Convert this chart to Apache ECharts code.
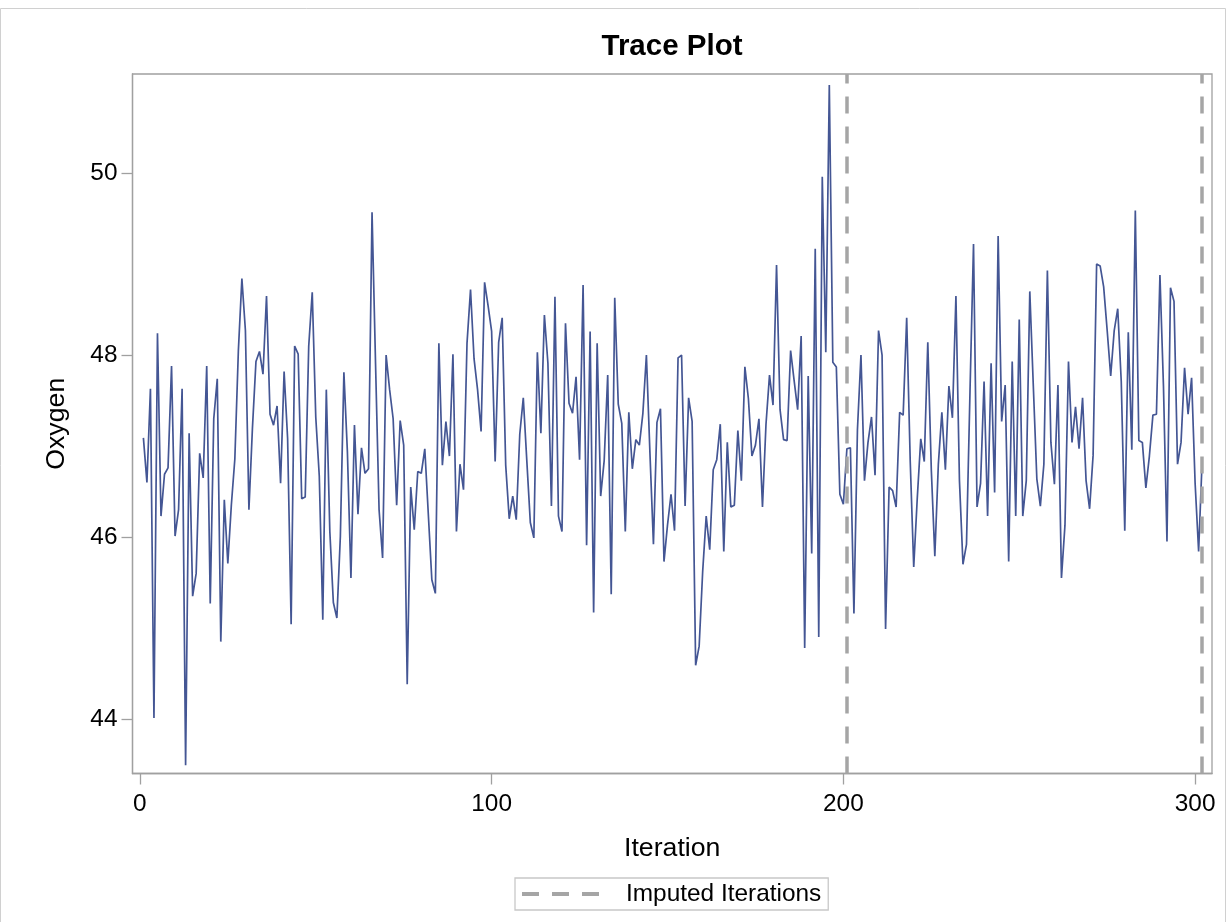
<!DOCTYPE html>
<html>
<head>
<meta charset="utf-8">
<script src="https://cdn.jsdelivr.net/npm/echarts@6/dist/echarts.min.js"></script>
<style>
html,body{margin:0;padding:0;background:#fff;}
#chart{width:1228px;height:922px;}
</style>
</head>
<body>
<div id="chart"></div>
<script>
// Oxygen trace values, iterations 1..302
const oxygen = [
47.09,46.60,47.63,44.01,48.24,46.23,46.69,46.76,47.88,46.01,
46.30,47.63,43.49,47.14,45.35,45.60,46.92,46.65,47.88,45.27,
47.30,47.74,44.85,46.41,45.71,46.35,46.86,48.05,48.84,48.27,
46.30,47.20,47.93,48.04,47.79,48.65,47.35,47.23,47.44,46.59,
47.82,47.08,45.04,48.10,48.01,46.42,46.44,48.10,48.69,47.32,
46.67,45.09,47.62,46.06,45.28,45.11,46.01,47.81,46.93,45.55,
47.23,46.25,46.98,46.70,46.75,49.57,47.90,46.30,45.77,48.00,
47.62,47.30,46.35,47.28,47.01,44.38,46.55,46.08,46.72,46.70,
46.97,46.25,45.53,45.38,48.13,46.79,47.27,46.89,48.01,46.06,
46.80,46.52,48.13,48.72,47.96,47.62,47.16,48.80,48.54,48.26,
46.83,48.14,48.41,46.79,46.20,46.45,46.19,47.13,47.53,46.84,
46.16,45.99,48.03,47.14,48.44,47.91,46.34,48.64,46.23,46.06,
48.35,47.47,47.36,47.76,46.85,48.77,45.91,48.26,45.17,48.13,
46.45,46.84,47.78,45.37,48.63,47.46,47.25,46.06,47.37,46.75,
47.07,47.01,47.36,48.00,46.93,45.92,47.26,47.41,45.73,46.13,
46.47,46.07,47.97,48.00,46.34,47.53,47.27,44.59,44.80,45.62,
46.23,45.86,46.74,46.85,47.24,45.84,47.04,46.33,46.35,47.17,
46.62,47.87,47.52,46.89,47.01,47.30,46.33,47.24,47.78,47.45,
48.99,47.40,47.07,47.06,48.05,47.72,47.40,48.21,44.78,47.77,
45.82,49.17,44.90,49.96,48.03,50.97,47.92,47.87,46.47,46.36,
46.97,46.98,45.16,47.18,48.00,46.62,47.04,47.32,46.68,48.27,
48.00,44.99,46.55,46.51,46.33,47.37,47.34,48.41,46.84,45.67,
46.42,47.08,46.83,48.14,46.74,45.79,46.80,47.37,46.74,47.66,
47.31,48.65,46.62,45.70,45.92,47.60,49.22,46.33,46.59,47.71,
46.23,47.91,46.49,49.31,47.27,47.67,45.73,47.93,46.23,48.39,
46.23,46.62,48.70,47.66,46.64,46.34,46.80,48.93,47.04,46.58,
47.67,45.55,46.13,47.93,47.04,47.43,46.97,47.53,46.62,46.31,
46.90,49.00,48.98,48.75,48.27,47.77,48.27,48.51,47.71,46.07,
48.25,46.96,49.59,47.06,47.04,46.54,46.89,47.34,47.35,48.88,
47.66,45.95,48.74,48.59,46.80,47.04,47.86,47.35,47.75,46.59,
45.84,46.85
];
const imputedIterations = [201, 302];
const xTicks = [0, 100, 200, 300];
const yTicks = [44, 46, 48, 50];

const FONT = "'Liberation Sans', Arial, Helvetica, sans-serif";
const AXIS_GREY = '#a0a0a0';

const traceData = oxygen.map((v, i) => [i + 1, v]);

const chart = echarts.init(document.getElementById('chart'), null, {renderer: 'canvas'});
chart.setOption({
  animation: false,
  backgroundColor: '#ffffff',
  title: {
    text: 'Trace Plot',
    left: 672,
    top: 32,
    padding: 0,
    textAlign: 'center',
    textStyle: {fontFamily: FONT, fontSize: 29.5, fontWeight: 'bold', color: '#000'}
  },
  graphic: [{
    type: 'rect',
    shape: {x: 0.5, y: 8.5, width: 1225, height: 925},
    style: {fill: 'none', stroke: '#d0d0d0', lineWidth: 1},
    silent: true,
    z: -10
  }],
  grid: {
    left: 132.5, right: 16, top: 74, bottom: 148.5,
    show: true, borderColor: AXIS_GREY, borderWidth: 1.3, backgroundColor: 'transparent'
  },
  legend: {
    data: ['Imputed Iterations'],
    left: 515, top: 878,
    padding: [4, 7, 4, 7],
    borderColor: '#c8c8c8', borderWidth: 1.3,
    icon: 'path://M0,0h17v4h-17z M30,0h17v4h-17z M60,0h17v4h-17z',
    itemWidth: 77, itemHeight: 4,
    itemStyle: {color: '#a5a5a5', borderWidth: 0},
    textStyle: {fontFamily: FONT, fontSize: 24.4, color: '#000', padding: [0, 0, 0, 22]},
    selectedMode: false
  },
  xAxis: {
    type: 'value',
    min: -2.1, max: 304.8,
    name: 'Iteration',
    nameLocation: 'middle',
    nameGap: 62,
    nameTextStyle: {fontFamily: FONT, fontSize: 26.7, color: '#000'},
    axisLine: {show: true, onZero: false, lineStyle: {color: AXIS_GREY, width: 1.3}},
    axisTick: {show: true, customValues: xTicks, length: 11, lineStyle: {color: AXIS_GREY, width: 1.3}},
    axisLabel: {customValues: xTicks, fontFamily: FONT, fontSize: 24.4, color: '#000', margin: 19},
    splitLine: {show: false},
    minorSplitLine: {show: false}
  },
  yAxis: {
    type: 'value',
    min: 43.40, max: 51.09,
    name: 'Oxygen',
    nameLocation: 'middle',
    nameGap: 62,
    nameTextStyle: {fontFamily: FONT, fontSize: 26.7, color: '#000'},
    axisLine: {show: true, onZero: false, lineStyle: {color: AXIS_GREY, width: 1.3}},
    axisTick: {show: true, customValues: yTicks, length: 11, lineStyle: {color: AXIS_GREY, width: 1.3}},
    axisLabel: {customValues: yTicks, fontFamily: FONT, fontSize: 24.4, color: '#000', margin: 15},
    splitLine: {show: false},
    minorSplitLine: {show: false}
  },
  series: [
    {
      name: 'Oxygen',
      type: 'line',
      data: traceData,
      showSymbol: false,
      symbol: 'none',
      lineStyle: {color: '#445694', width: 1.7},
      itemStyle: {color: '#445694'},
      z: 2
    },
    {
      name: 'Imputed Iterations',
      type: 'line',
      data: [],
      itemStyle: {color: '#a5a5a5'},
      lineStyle: {color: '#a5a5a5'},
      markLine: {
        silent: true,
        symbol: ['none', 'none'],
        label: {show: false},
        lineStyle: {color: '#a5a5a5', type: [17, 13], width: 3.5},
        data: imputedIterations.map(v => ({xAxis: v}))
      },
      z: 3
    }
  ]
});
</script>
</body>
</html>
